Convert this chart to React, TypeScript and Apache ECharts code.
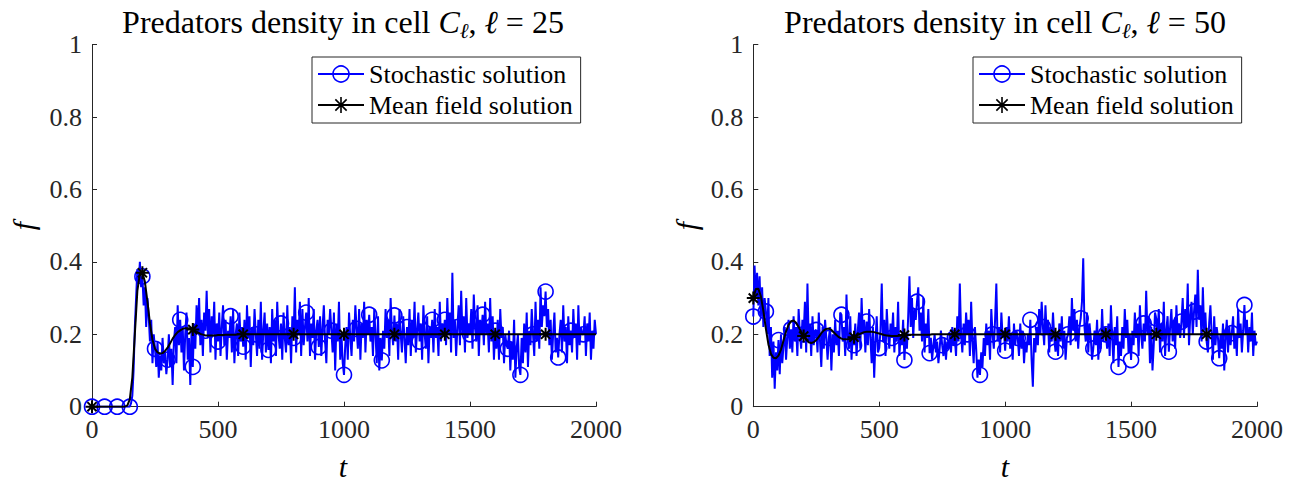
import React, { useEffect, useRef } from 'react';
import * as echarts from 'echarts';

// time step of the stored samples
const STOCH_STEP = 5;
const MEAN_STEP = 10;
const T_MAX = 2000;

const xTicks = [0, 500, 1000, 1500, 2000];
const yTicks = [0, 0.2, 0.4, 0.6, 0.8, 1];

const SERIES_STOCH = 'Stochastic solution';
const SERIES_MEAN = 'Mean field solution';

const titleLeft = 'Predators density in cell {it|C}{sub|ℓ}, {it|ℓ} = 25';
const titleRight = 'Predators density in cell {it|C}{sub|ℓ}, {it|ℓ} = 50';

// Stochastic solution, cell 25 (t = 0, 5, ..., 2000)
const stochLeft = [
  0, 0, 0, 0, 0, 0, 0, 0, 0, 0,
  0, 0, 0, 0, 0, 0, 0, 0, 0, 0,
  0, 0, 0, 0, 0, 0, 0, 0, 0, 0,
  0, 0.01, 0.03, 0.1, 0.22, 0.3, 0.38, 0.34, 0.4, 0.33,
  0.36, 0.28, 0.33, 0.22, 0.3, 0.25, 0.18, 0.24, 0.12, 0.2,
  0.16, 0.11, 0.18, 0.08, 0.14, 0.1, 0.19, 0.12, 0.15, 0.09,
  0.13, 0.2, 0.11, 0.16, 0.06, 0.18, 0.22, 0.12, 0.28, 0.17,
  0.24, 0.15, 0.22, 0.1, 0.2, 0.26, 0.13, 0.19, 0.06, 0.21,
  0.11, 0.23, 0.16, 0.28, 0.2, 0.3, 0.17, 0.24, 0.14, 0.26,
  0.21, 0.32, 0.19, 0.27, 0.15, 0.25, 0.2, 0.29, 0.13, 0.23,
  0.18, 0.26, 0.14, 0.22, 0.28, 0.17, 0.24, 0.13, 0.21, 0.19,
  0.25, 0.15, 0.27, 0.12, 0.2, 0.23, 0.14, 0.26, 0.18, 0.22,
  0.166, 0.24, 0.13, 0.28, 0.19, 0.25, 0.11, 0.22, 0.17, 0.27,
  0.2, 0.14, 0.24, 0.16, 0.29, 0.13, 0.21, 0.26, 0.15, 0.23,
  0.157, 0.22, 0.12, 0.27, 0.18, 0.24, 0.14, 0.29, 0.2, 0.16,
  0.23, 0.13, 0.26, 0.19, 0.15, 0.28, 0.17, 0.22, 0.12, 0.25,
  0.19, 0.33, 0.15, 0.24, 0.2, 0.29, 0.14, 0.27, 0.17, 0.22,
  0.26, 0.18, 0.3, 0.14, 0.23, 0.19, 0.27, 0.13, 0.21, 0.24,
  0.165, 0.25, 0.14, 0.22, 0.28, 0.18, 0.12, 0.24, 0.2, 0.27,
  0.21, 0.15, 0.26, 0.1, 0.23, 0.18, 0.29, 0.13, 0.2, 0.12,
  0.088, 0.17, 0.22, 0.13, 0.26, 0.19, 0.14, 0.24, 0.18, 0.28,
  0.215, 0.16, 0.27, 0.13, 0.23, 0.19, 0.29, 0.15, 0.24, 0.2,
  0.254, 0.18, 0.22, 0.14, 0.27, 0.2, 0.12, 0.25, 0.1, 0.19,
  0.128, 0.21, 0.16, 0.27, 0.19, 0.24, 0.14, 0.3, 0.21, 0.17,
  0.252, 0.18, 0.23, 0.13, 0.27, 0.2, 0.15, 0.25, 0.19, 0.12,
  0.22, 0.17, 0.27, 0.14, 0.24, 0.19, 0.29, 0.15, 0.21, 0.26,
  0.18, 0.23, 0.13, 0.28, 0.2, 0.16, 0.25, 0.12, 0.22, 0.19,
  0.24, 0.15, 0.27, 0.19, 0.22, 0.14, 0.29, 0.18, 0.23, 0.2,
  0.24, 0.17, 0.3, 0.2, 0.26, 0.15, 0.37, 0.19, 0.24, 0.14,
  0.22, 0.28, 0.17, 0.32, 0.2, 0.25, 0.15, 0.3, 0.19, 0.23,
  0.2, 0.27, 0.16, 0.31, 0.22, 0.18, 0.28, 0.14, 0.24, 0.2,
  0.254, 0.17, 0.29, 0.2, 0.23, 0.15, 0.3, 0.18, 0.25, 0.13,
  0.21, 0.16, 0.24, 0.13, 0.27, 0.19, 0.22, 0.12, 0.2, 0.17,
  0.16, 0.21, 0.1, 0.18, 0.13, 0.24, 0.08, 0.16, 0.2, 0.11,
  0.088, 0.19, 0.12, 0.23, 0.15, 0.26, 0.11, 0.21, 0.17, 0.27,
  0.2, 0.14, 0.29, 0.18, 0.24, 0.16, 0.33, 0.22, 0.28, 0.25,
  0.318, 0.22, 0.27, 0.17, 0.24, 0.13, 0.2, 0.26, 0.15, 0.19,
  0.136, 0.2, 0.24, 0.15, 0.28, 0.18, 0.22, 0.12, 0.25, 0.17,
  0.21, 0.15, 0.27, 0.19, 0.23, 0.13, 0.28, 0.17, 0.22, 0.2,
  0.2, 0.25, 0.14, 0.23, 0.18, 0.26, 0.13, 0.21, 0.16, 0.24,
  0.2,
];

// Stochastic solution, cell 50 (t = 0, 5, ..., 2000)
const stochRight = [
  0.249, 0.39, 0.3, 0.37, 0.28, 0.36, 0.25, 0.33, 0.22, 0.3,
  0.263, 0.2, 0.3, 0.14, 0.22, 0.08, 0.18, 0.05, 0.15, 0.1,
  0.184, 0.09, 0.2, 0.12, 0.17, 0.22, 0.13, 0.19, 0.24, 0.16,
  0.214, 0.15, 0.25, 0.18, 0.22, 0.14, 0.27, 0.2, 0.16, 0.24,
  0.2, 0.29, 0.15, 0.34, 0.18, 0.23, 0.14, 0.25, 0.17, 0.21,
  0.212, 0.15, 0.26, 0.18, 0.11, 0.22, 0.16, 0.24, 0.19, 0.13,
  0.19, 0.22, 0.1, 0.2, 0.15, 0.24, 0.17, 0.21, 0.14, 0.26,
  0.254, 0.18, 0.22, 0.14, 0.31, 0.19, 0.16, 0.25, 0.13, 0.2,
  0.17, 0.23, 0.14, 0.21, 0.26, 0.16, 0.3, 0.2, 0.24, 0.15,
  0.235, 0.17, 0.27, 0.19, 0.12, 0.22, 0.08, 0.18, 0.25, 0.15,
  0.162, 0.21, 0.34, 0.18, 0.24, 0.14, 0.27, 0.2, 0.16, 0.23,
  0.19, 0.26, 0.15, 0.22, 0.18, 0.29, 0.14, 0.2, 0.17, 0.24,
  0.129, 0.2, 0.16, 0.25, 0.36, 0.22, 0.3, 0.19, 0.27, 0.24,
  0.29, 0.33, 0.21, 0.26, 0.18, 0.3, 0.15, 0.23, 0.19, 0.27,
  0.148, 0.19, 0.13, 0.17, 0.2, 0.15, 0.18, 0.12, 0.16, 0.21,
  0.17, 0.14, 0.19, 0.13, 0.18, 0.16, 0.2, 0.15, 0.22, 0.17,
  0.19, 0.14, 0.25, 0.18, 0.34, 0.2, 0.15, 0.23, 0.17, 0.26,
  0.2, 0.24, 0.14, 0.29, 0.18, 0.12, 0.22, 0.16, 0.08, 0.13,
  0.088, 0.15, 0.11, 0.19, 0.14, 0.23, 0.17, 0.21, 0.13, 0.27,
  0.2, 0.16, 0.24, 0.34, 0.18, 0.22, 0.15, 0.26, 0.19, 0.21,
  0.155, 0.22, 0.18, 0.25, 0.16, 0.2, 0.13, 0.23, 0.17, 0.21,
  0.19, 0.14, 0.23, 0.16, 0.21, 0.12, 0.18, 0.15, 0.2, 0.17,
  0.24, 0.13, 0.055, 0.19, 0.15, 0.22, 0.17, 0.27, 0.2, 0.29,
  0.22, 0.17, 0.28, 0.2, 0.24, 0.15, 0.22, 0.18, 0.26, 0.19,
  0.152, 0.2, 0.14, 0.23, 0.18, 0.25, 0.16, 0.21, 0.13, 0.19,
  0.2, 0.25, 0.17, 0.3, 0.21, 0.27, 0.18, 0.24, 0.16, 0.22,
  0.244, 0.29, 0.41, 0.22, 0.18, 0.26, 0.15, 0.23, 0.19, 0.13,
  0.161, 0.21, 0.17, 0.24, 0.13, 0.2, 0.16, 0.27, 0.18, 0.22,
  0.2, 0.16, 0.23, 0.14, 0.28, 0.19, 0.12, 0.22, 0.17, 0.25,
  0.11, 0.18, 0.14, 0.22, 0.16, 0.27, 0.19, 0.24, 0.15, 0.2,
  0.129, 0.21, 0.17, 0.26, 0.19, 0.23, 0.14, 0.28, 0.2, 0.16,
  0.23, 0.18, 0.32, 0.2, 0.25, 0.12, 0.22, 0.1, 0.17, 0.26,
  0.244, 0.19, 0.27, 0.15, 0.23, 0.18, 0.29, 0.14, 0.21, 0.25,
  0.152, 0.22, 0.27, 0.18, 0.24, 0.16, 0.28, 0.2, 0.23, 0.19,
  0.235, 0.3, 0.19, 0.27, 0.22, 0.34, 0.17, 0.25, 0.29, 0.2,
  0.263, 0.31, 0.22, 0.378, 0.24, 0.28, 0.18, 0.33, 0.21, 0.26,
  0.18, 0.15, 0.23, 0.28, 0.2, 0.13, 0.25, 0.17, 0.22, 0.19,
  0.134, 0.2, 0.16, 0.23, 0.1, 0.19, 0.24, 0.15, 0.22, 0.17,
  0.203, 0.25, 0.16, 0.2, 0.14, 0.27, 0.19, 0.23, 0.15, 0.21,
  0.281, 0.2, 0.24, 0.15, 0.22, 0.18, 0.26, 0.14, 0.21, 0.17,
  0.18,
];

// Mean field solution, cell 25 (t = 0, 10, ..., 2000)
const meanLeft = [
  0, 0, 0, 0, 0, 0, 0, 0, 0, 0, 0, 0, 0, 0,
  0.003, 0.02, 0.08, 0.2, 0.32, 0.368, 0.37, 0.345, 0.29, 0.23,
  0.185, 0.16, 0.15, 0.147, 0.148, 0.154, 0.163, 0.175, 0.188, 0.198,
  0.206, 0.211, 0.215, 0.217, 0.217, 0.216, 0.213, 0.209, 0.205, 0.201,
  0.199, 0.197, 0.197, 0.197, 0.197, 0.197, 0.198,
  0.198, 0.198, 0.199, 0.199, 0.199, 0.199, 0.199, 0.2, 0.2,
  0.2, 0.2, 0.2, 0.2, 0.2, 0.2, 0.2, 0.2, 0.2, 0.2, 0.2, 0.2, 0.2, 0.2, 0.2, 0.2, 0.2, 0.2, 0.2, 0.2,
  0.2, 0.2, 0.2, 0.2, 0.2, 0.2, 0.2, 0.2, 0.2, 0.2, 0.2, 0.2, 0.2, 0.2, 0.2, 0.2, 0.2, 0.2, 0.2, 0.2,
  0.2, 0.2, 0.2, 0.2, 0.2, 0.2, 0.2, 0.2, 0.2, 0.2, 0.2, 0.2, 0.2, 0.2, 0.2, 0.2, 0.2, 0.2, 0.2, 0.2,
  0.2, 0.2, 0.2, 0.2, 0.2, 0.2, 0.2, 0.2, 0.2, 0.2, 0.2, 0.2, 0.2, 0.2, 0.2, 0.2, 0.2, 0.2, 0.2, 0.2,
  0.2, 0.2, 0.2, 0.2, 0.2, 0.2, 0.2, 0.2, 0.2, 0.2, 0.2, 0.2, 0.2, 0.2, 0.2, 0.2, 0.2, 0.2, 0.2, 0.2,
  0.2, 0.2, 0.2, 0.2, 0.2, 0.2, 0.2, 0.2, 0.2, 0.2, 0.2, 0.2, 0.2, 0.2, 0.2, 0.2, 0.2, 0.2, 0.2, 0.2,
  0.2, 0.2, 0.2, 0.2, 0.2, 0.2, 0.2, 0.2, 0.2, 0.2, 0.2, 0.2, 0.2, 0.2, 0.2, 0.2, 0.2, 0.2, 0.2, 0.2,
  0.2,
];

// Mean field solution, cell 50 (t = 0, 10, ..., 2000)
const meanRight = [
  0.3, 0.325, 0.326, 0.305, 0.265, 0.215, 0.172, 0.146, 0.135, 0.134,
  0.141, 0.158, 0.183, 0.208, 0.226, 0.236, 0.238, 0.232, 0.22, 0.207,
  0.195, 0.185, 0.178, 0.176, 0.178, 0.184, 0.193, 0.203, 0.211, 0.215,
  0.216, 0.212, 0.205, 0.198, 0.192, 0.188, 0.186, 0.186, 0.187, 0.189,
  0.192, 0.196, 0.2, 0.203, 0.206, 0.207, 0.207, 0.207, 0.206, 0.204,
  0.202, 0.2, 0.198, 0.197, 0.196, 0.195, 0.195, 0.195, 0.196, 0.197,
  0.198,
  0.198, 0.199, 0.199, 0.199, 0.199, 0.199, 0.199, 0.199, 0.199, 0.199,
  0.2, 0.2, 0.2, 0.2, 0.2, 0.2, 0.2, 0.2, 0.2, 0.2, 0.2, 0.2, 0.2, 0.2, 0.2, 0.2, 0.2, 0.2, 0.2, 0.2,
  0.2, 0.2, 0.2, 0.2, 0.2, 0.2, 0.2, 0.2, 0.2, 0.2, 0.2, 0.2, 0.2, 0.2, 0.2, 0.2, 0.2, 0.2, 0.2, 0.2,
  0.2, 0.2, 0.2, 0.2, 0.2, 0.2, 0.2, 0.2, 0.2, 0.2, 0.2, 0.2, 0.2, 0.2, 0.2, 0.2, 0.2, 0.2, 0.2, 0.2,
  0.2, 0.2, 0.2, 0.2, 0.2, 0.2, 0.2, 0.2, 0.2, 0.2, 0.2, 0.2, 0.2, 0.2, 0.2, 0.2, 0.2, 0.2, 0.2, 0.2,
  0.2, 0.2, 0.2, 0.2, 0.2, 0.2, 0.2, 0.2, 0.2, 0.2, 0.2, 0.2, 0.2, 0.2, 0.2, 0.2, 0.2, 0.2, 0.2, 0.2,
  0.2, 0.2, 0.2, 0.2, 0.2, 0.2, 0.2, 0.2, 0.2, 0.2, 0.2, 0.2, 0.2, 0.2, 0.2, 0.2, 0.2, 0.2, 0.2, 0.2,
  0.2, 0.2, 0.2, 0.2, 0.2, 0.2, 0.2, 0.2, 0.2, 0.2,
];

const FONT = 'Liberation Serif';
const AX = '#262626';
const BLUE = '#0000ff';
const ASTERISK = 'path://M10,0L10,20M0,10L20,10M2.93,2.93L17.07,17.07M2.93,17.07L17.07,2.93';

const STOCH_MARK_EVERY = 50; // time units between circle markers
const MEAN_MARK_EVERY = 200; // time units between asterisk markers

function toData(values: number[], step: number, markEvery: number) {
  return values.map((v, i) => {
    const t = i * step;
    const marked = t % markEvery === 0 && t < T_MAX;
    return marked ? { value: [t, v] } : { value: [t, v], symbol: 'none' };
  });
}

const GRIDS = [
  { left: 92, top: 44.7, width: 504, height: 362 },
  { left: 753.3, top: 44.7, width: 503.7, height: 362 },
];

const tickRich = { a: { fontFamily: FONT, fontSize: 26, color: AX, lineHeight: 28 } };
const legendRich = { a: { fontFamily: FONT, fontSize: 26, color: '#000', lineHeight: 24 } };

export default function App() {
  const ref = useRef<HTMLDivElement>(null);
  useEffect(() => {
    if (!ref.current) return;
    const chart = echarts.init(ref.current, undefined, { renderer: 'svg' });

    const xAxis = GRIDS.map((_, gi) => ({
      type: 'value',
      gridIndex: gi,
      min: xTicks[0],
      max: xTicks[xTicks.length - 1],
      interval: xTicks[1] - xTicks[0],
      axisLine: { show: true, lineStyle: { color: AX, width: 1 } },
      axisTick: { show: true, inside: true, length: 5, lineStyle: { color: AX } },
      splitLine: { show: false },
      axisLabel: { margin: 9, formatter: (v: number) => `{a|${v}}`, rich: tickRich },
    }));
    const yAxis = GRIDS.map((_, gi) => ({
      type: 'value',
      gridIndex: gi,
      min: yTicks[0],
      max: yTicks[yTicks.length - 1],
      interval: yTicks[1] - yTicks[0],
      axisLine: { show: true, lineStyle: { color: AX, width: 1 } },
      axisTick: { show: true, inside: true, length: 5, lineStyle: { color: AX } },
      splitLine: { show: false },
      axisLabel: { margin: 10, formatter: (v: number) => `{a|${Math.round(v * 10) / 10}}`, rich: tickRich },
    }));

    const stochSets = [stochLeft, stochRight];
    const meanSets = [meanLeft, meanRight];
    const series: any[] = [];
    GRIDS.forEach((_, gi) => {
      series.push({
        name: SERIES_STOCH,
        type: 'line',
        xAxisIndex: gi,
        yAxisIndex: gi,
        data: toData(stochSets[gi], STOCH_STEP, STOCH_MARK_EVERY),
        symbol: 'circle',
        symbolSize: 15,
        showSymbol: true,
        lineStyle: { color: BLUE, width: 2 },
        itemStyle: { color: 'rgba(255,255,255,0)', borderColor: BLUE, borderWidth: 1.6 },
        silent: true,
        emphasis: { disabled: true },
        z: 2,
      });
      series.push({
        name: SERIES_MEAN,
        type: 'line',
        xAxisIndex: gi,
        yAxisIndex: gi,
        data: toData(meanSets[gi], MEAN_STEP, MEAN_MARK_EVERY),
        symbol: ASTERISK,
        symbolSize: 13,
        showSymbol: true,
        lineStyle: { color: '#000', width: 2 },
        itemStyle: { color: '#000', borderColor: '#000', borderWidth: 2 },
        silent: true,
        emphasis: { disabled: true },
        z: 3,
      });
    });

    const legends = GRIDS.map((g, gi) => ({
      left: gi === 0 ? 312 : 973,
      top: 57,
      orient: 'vertical',
      data: [SERIES_STOCH, SERIES_MEAN],
      selectedMode: false,
      backgroundColor: '#fff',
      borderColor: AX,
      borderWidth: 1,
      borderRadius: 0,
      padding: [4, 8, 5, 5],
      itemWidth: 46,
      itemHeight: 20,
      itemGap: 5,
      itemStyle: { borderWidth: 1.6 },
      formatter: (name: string) => `{a|${name}}`,
      textStyle: { rich: legendRich },
    }));

    const richTitle = {
      it: { fontFamily: FONT, fontStyle: 'italic', fontSize: 32, color: '#000', lineHeight: 38, verticalAlign: 'middle' },
      sub: { fontFamily: FONT, fontStyle: 'italic', fontSize: 21, color: '#000', lineHeight: 20, verticalAlign: 'bottom' },
    };
    const titleStyle = (text: string) => ({
      text,
      font: `32px ${FONT}`,
      fill: '#000',
      align: 'center',
      verticalAlign: 'middle',
      lineHeight: 38,
      rich: richTitle,
    });
    const axisName = (text: string) => ({
      text,
      font: `italic 30px ${FONT}`,
      fill: '#000',
      align: 'center',
      verticalAlign: 'middle',
    });

    chart.setOption({
      animation: false,
      grid: GRIDS.map((g) => ({ ...g, containLabel: false })),
      xAxis,
      yAxis,
      legend: legends,
      series,
      graphic: [
        { type: 'text', x: 343, y: 22, style: titleStyle(titleLeft) },
        { type: 'text', x: 1005, y: 22, style: titleStyle(titleRight) },
        { type: 'text', x: 23, y: 226, rotation: Math.PI / 2, style: axisName('f') },
        { type: 'text', x: 686, y: 226, rotation: Math.PI / 2, style: axisName('f') },
        { type: 'text', x: 343, y: 466, style: axisName('t') },
        { type: 'text', x: 1005, y: 466, style: axisName('t') },
      ],
    });
    return () => chart.dispose();
  }, []);
  return <div ref={ref} style={{ position: 'absolute', left: 0, top: 0, width: 1296, height: 483 }} />;
}
